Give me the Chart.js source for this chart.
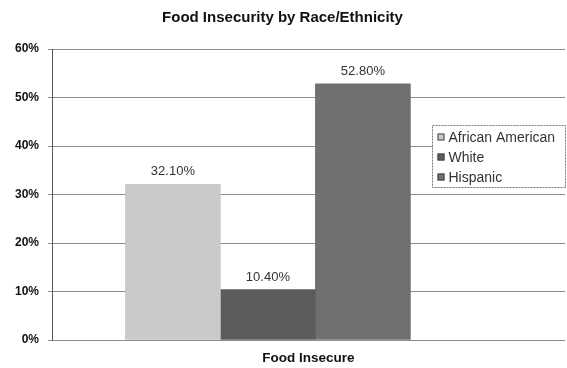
<!DOCTYPE html>
<html>
<head>
<meta charset="utf-8">
<script src="https://cdn.jsdelivr.net/npm/chart.js@4/dist/chart.umd.min.js"></script>
<style>
  html, body { margin: 0; padding: 0; background: #fff; }
  #wrap { width: 567px; height: 368px; }
</style>
</head>
<body>
<div id="wrap"><canvas id="c" width="567" height="368"></canvas></div>
<script>
// Chart content
const chartTitle = 'Food Insecurity by Race/Ethnicity';
const categoryLabel = 'Food Insecure';
const groups = ['African American', 'White', 'Hispanic'];
const percentValues = [32.1, 10.4, 52.8];
const yTicks = [0, 10, 20, 30, 40, 50, 60];

// Styling
const FONT = "'Liberation Sans', Arial, sans-serif";
const barColors = ['#c9c9c9', '#5c5c5c', '#707070'];
const GRID = '#8c8c8c';

// Percentage labels above each bar
const valueLabels = {
  id: 'valueLabels',
  afterDatasetsDraw(chart) {
    const { ctx } = chart;
    ctx.save();
    ctx.font = '13px ' + FONT;
    ctx.fillStyle = '#333';
    ctx.textAlign = 'center';
    ctx.textBaseline = 'alphabetic';
    chart.data.datasets.forEach((ds, i) => {
      const meta = chart.getDatasetMeta(i);
      meta.data.forEach((bar, j) => {
        const v = ds.data[j].y;
        ctx.fillText(v.toFixed(2) + '%', bar.x, bar.y - 9);
      });
    });
    ctx.restore();
  }
};

// Boxed legend sitting over the right side of the plot
const boxedLegend = {
  id: 'boxedLegend',
  afterDraw(chart) {
    const { ctx } = chart;
    const x = 432.5, y = 125.5, w = 133, h = 62;
    ctx.save();
    ctx.fillStyle = '#fff';
    ctx.fillRect(x, y, w, h);
    ctx.strokeStyle = '#777';
    ctx.setLineDash([2, 1]);
    ctx.lineWidth = 1;
    ctx.strokeRect(x, y, w, h);
    ctx.setLineDash([]);
    ctx.font = '14px ' + FONT;
    ctx.textBaseline = 'middle';
    ctx.textAlign = 'left';
    chart.data.datasets.forEach((ds, i) => {
      const cy = y + 12 + i * 20;
      ctx.fillStyle = ds.backgroundColor;
      ctx.fillRect(x + 5, cy - 4, 7, 7);
      ctx.strokeStyle = '#444';
      ctx.strokeRect(x + 5.5, cy - 3.5, 6, 6);
      ctx.fillStyle = '#333';
      ctx.fillText(ds.label, x + 16, cy + 1);
    });
    ctx.restore();
  }
};

new Chart(document.getElementById('c'), {
  type: 'bar',
  data: {
    datasets: groups.map((g, i) => ({
      label: g,
      data: [{ x: 0, y: percentValues[i] }],
      backgroundColor: barColors[i],
      borderWidth: 0,
      barThickness: 95
    }))
  },
  options: {
    responsive: false,
    animation: false,
    layout: { padding: { left: 0, right: 2, top: 0, bottom: 0 } },
    plugins: {
      legend: { display: false },
      tooltip: { enabled: false },
      title: {
        display: true,
        text: chartTitle,
        color: '#111',
        font: { family: FONT, size: 15, weight: 'bold' },
        padding: { top: 9, bottom: 22 }
      }
    },
    scales: {
      x: {
        type: 'linear',
        min: -1,
        max: 1.469,
        afterFit(scale) { scale.height = 28; },
        ticks: { display: false },
        grid: { display: false },
        border: { display: false },
        title: {
          display: true,
          text: categoryLabel,
          color: '#111',
          font: { family: FONT, size: 13.5, weight: 'bold' },
          padding: { top: 10, bottom: 2 }
        }
      },
      y: {
        min: 0,
        max: 60,
        afterBuildTicks(scale) {
          scale.ticks = yTicks.map(v => ({ value: v }));
        },
        afterFit(scale) { scale.width = 52; },
        ticks: {
          callback: v => v + '%',
          color: '#111',
          padding: 9,
          font: { family: FONT, size: 12, weight: 'bold' }
        },
        grid: { color: GRID, tickLength: 4, lineWidth: 1 },
        border: { color: '#555', width: 1 }
      }
    }
  },
  plugins: [valueLabels, boxedLegend]
});
</script>
</body>
</html>
